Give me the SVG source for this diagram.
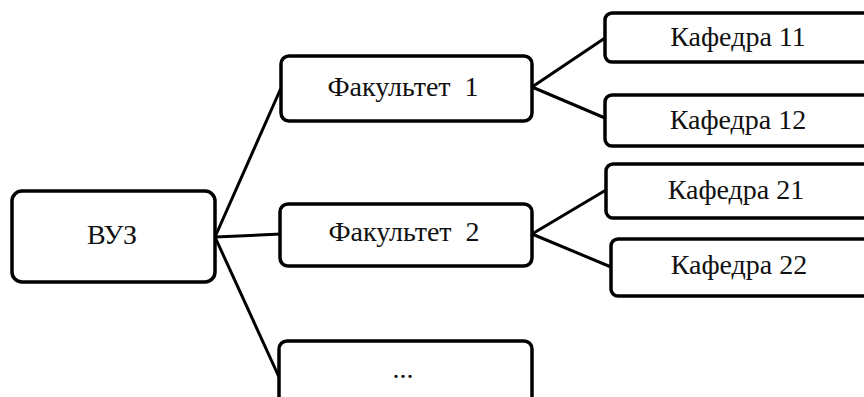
<svg xmlns="http://www.w3.org/2000/svg" width="864" height="397" viewBox="0 0 864 397">
<style>
.box{fill:#fff;stroke:#000;stroke-width:3.5}
.lbl{font-family:"Liberation Serif","Times New Roman",serif;font-size:28px;fill:#111;text-anchor:middle;white-space:pre}
.con{stroke:#000;stroke-width:3;fill:none;stroke-linecap:round}
</style>
<rect width="864" height="397" fill="#fff"/>
<g id="connectors">
<line class="con" x1="215" y1="237" x2="281" y2="88"/>
<line class="con" x1="215" y1="237" x2="281" y2="234"/>
<line class="con" x1="215" y1="237" x2="279" y2="377"/>
<line class="con" x1="532" y1="87" x2="605" y2="38"/>
<line class="con" x1="532" y1="87" x2="605" y2="118"/>
<line class="con" x1="532" y1="234" x2="606" y2="190"/>
<line class="con" x1="532" y1="234" x2="611" y2="267"/>
</g>
<g id="vuz">
<rect class="box" x="12" y="191" width="203" height="91" rx="10"/>
<text class="lbl" x="112" y="244">ВУЗ</text>
</g>
<g id="fak1">
<rect class="box" x="281" y="56" width="251" height="65" rx="8"/>
<text class="lbl" x="403" y="96" xml:space="preserve">Факультет  1</text>
</g>
<g id="fak2">
<rect class="box" x="280" y="204" width="252" height="62" rx="8"/>
<text class="lbl" x="404" y="241" xml:space="preserve">Факультет  2</text>
</g>
<g id="fak-more">
<rect class="box" x="279" y="341" width="253" height="80" rx="8"/>
<text class="lbl" x="403" y="378">...</text>
</g>
<g id="kaf11">
<rect class="box" x="605" y="13" width="275" height="49" rx="7"/>
<text class="lbl" x="738" y="46">Кафедра 11</text>
</g>
<g id="kaf12">
<rect class="box" x="605" y="95" width="275" height="51" rx="7"/>
<text class="lbl" x="738" y="129">Кафедра 12</text>
</g>
<g id="kaf21">
<rect class="box" x="606" y="164" width="275" height="54" rx="7"/>
<text class="lbl" x="736" y="199">Кафедра 21</text>
</g>
<g id="kaf22">
<rect class="box" x="611" y="239" width="275" height="57" rx="7"/>
<text class="lbl" x="739" y="274">Кафедра 22</text>
</g>
</svg>
